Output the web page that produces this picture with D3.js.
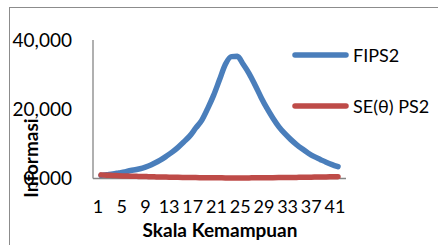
<!DOCTYPE html>
<html>
<head>
<meta charset="utf-8">
<script src="https://cdn.jsdelivr.net/npm/d3@7"></script>
<style>
  body { margin: 0; background: #fff; }
  svg text { font-family: Lato, "Open Sans", sans-serif; fill: #000; }
</style>
</head>
<body>
<div id="chart-area"></div>
<script>
/* data */
var categories = d3.range(1, 42);
var fips2 = [0.9, 1.1, 1.3, 1.6, 1.9, 2.3, 2.6, 3.0, 3.6, 4.4,
	5.3, 6.4, 7.6, 9.0, 10.6, 12.3, 14.6, 16.8, 20.2, 24.0,
	28.5, 33.0, 35.2, 35.3, 33.0, 30.3, 27.0, 23.5, 20.3, 17.5,
	15.0, 13.0, 11.3, 9.8, 8.5, 7.3, 6.3, 5.5, 4.7, 4.0, 3.4];
var sePs2 = [1.05, 0.95, 0.88, 0.79, 0.73, 0.66, 0.62, 0.58, 0.53, 0.48,
	0.43, 0.40, 0.36, 0.33, 0.31, 0.29, 0.26, 0.24, 0.22, 0.20,
	0.19, 0.17, 0.17, 0.17, 0.17, 0.18, 0.19, 0.21, 0.22, 0.24,
	0.26, 0.28, 0.30, 0.32, 0.34, 0.37, 0.40, 0.43, 0.46, 0.50, 0.54];
var yTicks = [0, 20, 40];
var yTickLabels = ["0,000", "20,000", "40,000"];
var xTickLabels = [1, 5, 9, 13, 17, 21, 25, 29, 33, 37, 41];
var seriesNames = ["FIPS2", "SE(\u03b8) PS2"];
var colors = ["#4a7ebb", "#be4b48"];

var svg = d3.select("#chart-area")
	.append("svg")
		.attr("width", 438)
		.attr("height", 245);

// chart border
svg.append("rect")
	.attr("x", 9.5)
	.attr("y", 7.5)
	.attr("width", 460)
	.attr("height", 260)
	.attr("fill", "none")
	.attr("stroke", "#8c8c8c");

// scales
var x = d3.scalePoint()
	.domain(categories)
	.range([93, 346])
	.padding(1.35);

var y = d3.scaleLinear()
	.domain([0, 40])
	.range([178.5, 40]);

// axes lines
svg.append("line")
	.attr("x1", 93).attr("x2", 93)
	.attr("y1", y(40)).attr("y2", y(0))
	.attr("stroke", "#868686").attr("stroke-width", 1.3);
svg.append("line")
	.attr("x1", 93).attr("x2", 346)
	.attr("y1", y(0)).attr("y2", y(0))
	.attr("stroke", "#868686").attr("stroke-width", 1.3);

// y tick labels
svg.selectAll(".ylab")
	.data(yTicks)
	.enter().append("text")
		.attr("class", "ylab")
		.attr("x", 72)
		.attr("y", (d) => y(d))
		.attr("dy", "0.35em")
		.attr("text-anchor", "end")
		.style("font-size", "19px")
		.text((d, i) => yTickLabels[i]);

// x tick labels
svg.selectAll(".xlab")
	.data(xTickLabels)
	.enter().append("text")
		.attr("class", "xlab")
		.attr("x", (d) => x(d) - 3)
		.attr("y", 213)
		.attr("text-anchor", "middle")
		.style("font-size", "18px")
		.text((d) => d);

// lines
var line = d3.line()
	.x((d, i) => x(categories[i]))
	.y((d) => y(d))
	.curve(d3.curveMonotoneX);

[fips2, sePs2].forEach((s, i) => {
	svg.append("path")
		.datum(s)
		.attr("d", line)
		.attr("fill", "none")
		.attr("stroke", colors[i])
		.attr("stroke-width", 5.5)
		.attr("stroke-linecap", "round")
		.attr("stroke-linejoin", "round");
});

// legend
var legend = svg.append("g");
seriesNames.forEach((name, i) => {
	var ly = 55 + i * 51;
	legend.append("line")
		.attr("x1", 295).attr("x2", 346)
		.attr("y1", ly).attr("y2", ly)
		.attr("stroke", colors[i])
		.attr("stroke-width", 5.5)
		.attr("stroke-linecap", "round");
	legend.append("text")
		.attr("x", 353)
		.attr("y", ly + 1)
		.attr("dy", "0.35em")
		.style("font-size", "18px")
		.text(name);
});

// axis titles
svg.append("text")
	.attr("x", 220)
	.attr("y", 237)
	.attr("text-anchor", "middle")
	.style("font-size", "19px")
	.style("font-weight", "bold")
	.text("Skala Kemampuan");

svg.append("text")
	.attr("transform", "translate(38, 158) rotate(-90)")
	.attr("text-anchor", "middle")
	.style("font-size", "19px")
	.style("font-weight", "bold")
	.text("Informasi");
</script>
</body>
</html>
